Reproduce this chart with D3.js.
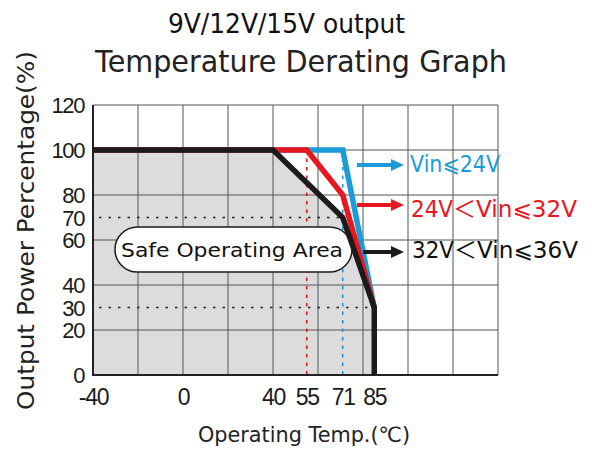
<!DOCTYPE html>
<html><head><meta charset="utf-8">
<script src="https://cdn.jsdelivr.net/npm/d3@7/dist/d3.min.js"></script>
<style>
body{margin:0;background:#fff;}
svg{display:block;}
</style></head>
<body>
<svg id="c" width="592" height="452"></svg>
<script>
// ---- data ----
const xTicks = [-40, 0, 40, 55, 71, 85];
const yTicks = [0, 20, 30, 40, 60, 70, 80, 100, 120];
const xGrid = [-40, -20, 0, 20, 40, 60, 80, 100, 120, 140];
const yGrid = [0, 20, 40, 60, 80, 100, 120];
// legend labels split into parts: [before, "＜", after]
const seriesParts = [["Vin⩽24V"], ["24V", "＜", "Vin⩽32V"], ["32V", "＜", "Vin⩽36V"]];
const blueTemp = [-40, 71, 85];
const bluePct  = [100, 100, 30];
const redTemp  = [-40, 55, 71, 85];
const redPct   = [100, 100, 80, 30];
const blackTemp = [-40, 40, 71, 85, 85];
const blackPct  = [100, 100, 70, 30, 0];
const hDotted = [{pct:70, to:71}, {pct:30, to:85}];
const vDotted = [{temp:55, color:"red"}, {temp:71, color:"blue"}];

const colors = {blue:"#1b9bd7", red:"#e8161e", black:"#1c1a1a"};
const svg = d3.select("#c");
const x = d3.scaleLinear().domain([-40, 140]).range([93, 498]);
const y = d3.scaleLinear().domain([0, 120]).range([375, 105]);
const pts = (t, p) => t.map((v, i) => [v, p[i]]);

// gray safe area fill
const areaPts = pts(blackTemp, blackPct).concat([[-40, 0]]);
svg.append("path")
  .attr("d", d3.line().x(d => x(d[0])).y(d => y(d[1]))(areaPts) + "Z")
  .attr("fill", "#dcdcdc");

// grid
svg.append("g").selectAll("line").data(xGrid).join("line")
  .attr("x1", d => x(d)).attr("x2", d => x(d))
  .attr("y1", y(0)).attr("y2", y(120))
  .attr("stroke", "#555").attr("stroke-width", 1);
svg.append("g").selectAll("line").data(yGrid).join("line")
  .attr("x1", x(-40)).attr("x2", x(140))
  .attr("y1", d => y(d)).attr("y2", d => y(d))
  .attr("stroke", "#555").attr("stroke-width", 1);

// dotted
svg.append("g").selectAll("line").data(hDotted).join("line")
  .attr("x1", x(-40) + 6).attr("x2", d => x(d.to))
  .attr("y1", d => y(d.pct)).attr("y2", d => y(d.pct))
  .attr("stroke", "#222").attr("stroke-width", 1.5)
  .attr("stroke-dasharray", "2.5,7");
svg.append("g").selectAll("line").data(vDotted).join("line")
  .attr("x1", d => x(d.temp)).attr("x2", d => x(d.temp))
  .attr("y1", y(100)).attr("y2", y(0))
  .attr("stroke", d => colors[d.color]).attr("stroke-width", 1.6)
  .attr("stroke-dasharray", "3.5,5");

// axis lines
svg.append("line").attr("x1", x(-40)).attr("x2", x(-40)).attr("y1", y(0)+1).attr("y2", y(120))
  .attr("stroke", "#222").attr("stroke-width", 2);
svg.append("line").attr("x1", x(-40)-1).attr("x2", x(140)).attr("y1", y(0)).attr("y2", y(0))
  .attr("stroke", "#222").attr("stroke-width", 2);

// Safe Operating Area label
svg.append("rect").attr("x", 115).attr("y", 227).attr("width", 237).attr("height", 45)
  .attr("rx", 22.5).attr("ry", 22.5)
  .attr("fill", "#fff").attr("stroke", "#1a1a1a").attr("stroke-width", 1.5);
svg.append("text").attr("x", 121).attr("y", 257)
  .attr("font-family", "DejaVu Sans").attr("font-size", 20)
  .attr("textLength", 222).attr("lengthAdjust", "spacingAndGlyphs")
  .attr("fill", "#111").text("Safe Operating Area");

// curves
const line = d3.line().x(d => x(d[0])).y(d => y(d[1]));
svg.append("path").attr("d", line(pts(blueTemp, bluePct)))
  .attr("fill", "none").attr("stroke", colors.blue).attr("stroke-width", 5.5);
svg.append("path").attr("d", line(pts(redTemp, redPct)))
  .attr("fill", "none").attr("stroke", colors.red).attr("stroke-width", 5.5);
svg.append("path").attr("d", line(pts(blackTemp, blackPct)))
  .attr("fill", "none").attr("stroke", colors.black).attr("stroke-width", 5.5);

// arrows + legend labels
const legend = [
  {parts: seriesParts[0], c: colors.blue, tc: colors.blue, x0: 357, y: 165, tx: 410, ty: 172},
  {parts: seriesParts[1], c: colors.red, tc: colors.red, x0: 357, y: 205, tx: 411, ty: 217},
  {parts: seriesParts[2], c: colors.black, tc: "#111", x0: 363, y: 252, tx: 412, ty: 258}
];
legend.forEach(l => {
  svg.append("line").attr("x1", l.x0).attr("x2", 393).attr("y1", l.y).attr("y2", l.y)
    .attr("stroke", l.c).attr("stroke-width", 4);
  svg.append("path").attr("d", `M391,${l.y-6}L404,${l.y}L391,${l.y+6}Z`).attr("fill", l.c);
  const t = svg.append("text").attr("x", l.tx).attr("y", l.ty).attr("fill", l.tc)
    .attr("font-family", "DejaVu Sans").attr("font-size", 23);
  if (l.parts.length === 1) {
    t.append("tspan").attr("textLength", 90).attr("lengthAdjust", "spacingAndGlyphs").text(l.parts[0]);
  } else {
    t.append("tspan").text(l.parts[0]).attr("textLength", 42).attr("lengthAdjust", "spacingAndGlyphs");
    t.append("tspan").text(l.parts[1]).attr("font-family", "Noto Sans CJK JP").attr("font-size", 23);
    t.append("tspan").text(l.parts[2]).attr("textLength", 101).attr("lengthAdjust", "spacingAndGlyphs");
  }
});

// axes tick labels
const fmt = d => String(d);
const yAxis = svg.append("g").attr("transform", `translate(${x(-40)},0)`)
  .call(d3.axisLeft(y).tickValues(yTicks).tickSize(0).tickPadding(9).tickFormat(fmt));
yAxis.select(".domain").remove();
yAxis.selectAll("text").attr("font-family", "Liberation Sans").attr("font-size", 22)
  .attr("letter-spacing", "-1.4px").attr("fill", "#1a1a1a").attr("dy", "0.36em");

const xAxis = svg.append("g").attr("transform", `translate(0,${y(0)})`)
  .call(d3.axisBottom(x).tickValues(xTicks).tickSize(0).tickPadding(14).tickFormat(fmt));
xAxis.select(".domain").remove();
xAxis.selectAll("text").attr("font-family", "Liberation Sans").attr("font-size", 23)
  .attr("letter-spacing", "-1.2px").attr("fill", "#1a1a1a").attr("dy", "0.71em");

// titles
svg.append("text").attr("x", 168).attr("y", 33).attr("fill", "#111")
  .attr("font-family", "DejaVu Sans").attr("font-size", 26)
  .attr("textLength", 237).attr("lengthAdjust", "spacingAndGlyphs").text("9V/12V/15V output");
svg.append("text").attr("x", 95).attr("y", 72).attr("fill", "#222")
  .attr("font-family", "DejaVu Sans").attr("font-size", 30)
  .attr("textLength", 412).attr("lengthAdjust", "spacingAndGlyphs").text("Temperature Derating Graph");
svg.append("text").attr("x", 198).attr("y", 442).attr("fill", "#222")
  .attr("font-family", "DejaVu Sans").attr("font-size", 21)
  .attr("textLength", 212).attr("lengthAdjust", "spacingAndGlyphs").text("Operating Temp.(℃)");
svg.append("text").attr("transform", "translate(34,410) rotate(-90)").attr("fill", "#222")
  .attr("font-family", "DejaVu Sans").attr("font-size", 23)
  .attr("textLength", 359).attr("lengthAdjust", "spacingAndGlyphs").text("Output Power Percentage(%)");
</script>
</body></html>
